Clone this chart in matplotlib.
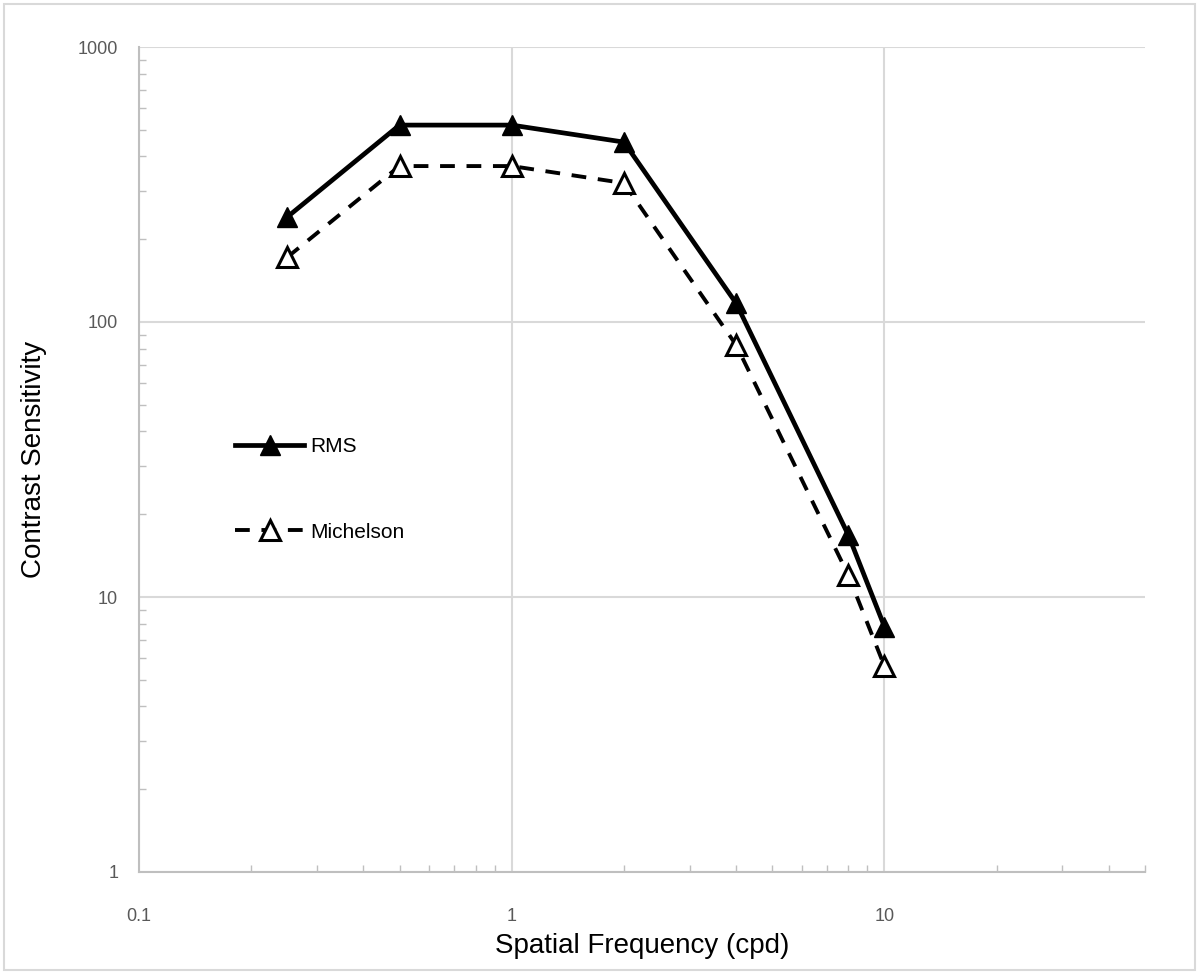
import numpy as np
import matplotlib.pyplot as plt
from matplotlib.ticker import LogLocator, FixedLocator, NullFormatter
from matplotlib.patches import Rectangle

# spatial frequency (cpd) and contrast sensitivity
freq = [0.25, 0.5, 1, 2, 4, 8, 10]
rms = [241, 520, 520, 451, 117, 16.8, 7.8]
michelson = [172, 369, 369, 320, 82.5, 12.0, 5.6]

xticks = [0.1, 1, 10]
xticklabels = ["0.1", "1", "10"]
yticks = [1, 10, 100, 1000]
yticklabels = ["1", "10", "100", "1000"]

plt.rcParams['font.family'] = ['Liberation Sans', 'DejaVu Sans']

fig = plt.figure(figsize=(11.99, 9.74), dpi=100)
ax = fig.add_axes([139/1199, 1 - 872/974, (1145-139)/1199, (872-47)/974])

grid_col = '#d9d9d9'
ax.set_xscale('log')
ax.set_yscale('log')
ax.set_xlim(0.1, 50)
ax.set_ylim(1, 1000)

ax.plot(freq, rms, color='black', lw=3.4, marker='^', ms=14,
        mfc='black', mec='black', label='RMS', zorder=3)
ax.plot(freq, michelson, color='black', lw=2.8, ls=(0, (3.8, 3)), marker='^',
        ms=14, mfc='white', mec='black', mew=2.2, label='Michelson', zorder=3)

ax.xaxis.set_major_locator(FixedLocator(xticks))
ax.set_xticklabels(xticklabels)
ax.yaxis.set_major_locator(FixedLocator(yticks))
ax.set_yticklabels(yticklabels)
ax.xaxis.set_minor_locator(LogLocator(base=10, subs=np.arange(2, 10)))
ax.yaxis.set_minor_locator(LogLocator(base=10, subs=np.arange(2, 10)))
ax.xaxis.set_minor_formatter(NullFormatter())
ax.yaxis.set_minor_formatter(NullFormatter())

ax.grid(True, which='major', color=grid_col, lw=1.5)
ax.tick_params(which='major', length=0, pad=15, labelsize=13, labelcolor='#595959')
ax.tick_params(axis='x', which='major', pad=26)
ax.tick_params(which='minor', direction='in', length=5, width=1, color='#bfbfbf')

for s in ['top', 'right']:
    ax.spines[s].set_visible(False)
for s in ['left', 'bottom']:
    ax.spines[s].set_color('#bfbfbf')
    ax.spines[s].set_linewidth(1.5)

ax.set_xlabel('Spatial Frequency (cpd)', fontsize=20, labelpad=6)
ax.set_ylabel('Contrast Sensitivity', fontsize=20, labelpad=22)

ax.legend(loc='upper left', bbox_to_anchor=(0.077, 0.55), frameon=False,
          handlelength=3.3, labelspacing=3.2, handletextpad=0.3, fontsize=15)

fig.patches.append(Rectangle((4/1199, 4/974), 1 - 8/1199, 1 - 8/974,
                             transform=fig.transFigure, fill=False,
                             edgecolor='#d9d9d9', lw=1.5))

fig.savefig('out.png', dpi=100)
